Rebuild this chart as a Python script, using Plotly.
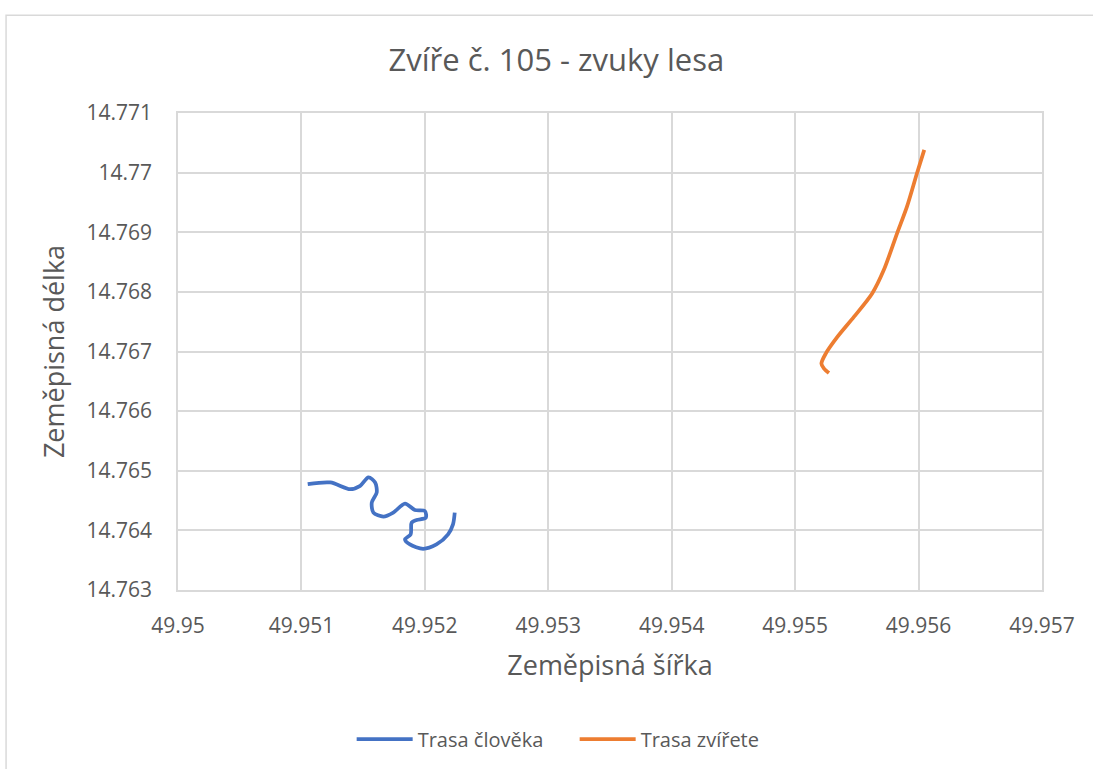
import plotly.graph_objects as go

human_lat = [49.951051, 49.951234, 49.951395, 49.951476, 49.951543, 49.951597, 49.951610,
             49.951570, 49.951583, 49.951664, 49.951744, 49.951839, 49.951919, 49.952000,
             49.952008, 49.951933, 49.951893, 49.951885, 49.951839, 49.951879, 49.951986,
             49.952094, 49.952188, 49.952228, 49.952242]
human_lon = [14.764776, 14.764804, 14.764691, 14.764747, 14.764889, 14.764804, 14.764636,
             14.764467, 14.764298, 14.764231, 14.764298, 14.764450, 14.764342, 14.764325,
             14.764214, 14.764174, 14.764130, 14.763933, 14.763848, 14.763764, 14.763691,
             14.763764, 14.763933, 14.764101, 14.764298]

animal_lat = [49.955274, 49.955234, 49.955213, 49.955248, 49.955342, 49.955476, 49.955624,
              49.955718, 49.955826, 49.955906, 49.955987, 49.956046]
animal_lon = [14.766639, 14.766713, 14.766797, 14.766965, 14.767244, 14.767580, 14.767973,
              14.768365, 14.768982, 14.769429, 14.769990, 14.770382]

x_ticks = [49.950, 49.951, 49.952, 49.953, 49.954, 49.955, 49.956, 49.957]
x_labels = ["49.95", "49.951", "49.952", "49.953", "49.954", "49.955", "49.956", "49.957"]
y_ticks = [14.763, 14.764, 14.765, 14.766, 14.767, 14.768, 14.769, 14.770, 14.771]
y_labels = ["14.763", "14.764", "14.765", "14.766", "14.767", "14.768", "14.769", "14.77", "14.771"]

FONT = "Open Sans, Liberation Sans, sans-serif"
GREY = "#595959"
GRID = "#d9d9d9"

fig = go.Figure()
fig.add_trace(go.Scatter(x=human_lat, y=human_lon, mode="lines", name="Trasa člověka",
                         line=dict(color="#4472c4", width=3.75, shape="spline", smoothing=0.8)))
fig.add_trace(go.Scatter(x=animal_lat, y=animal_lon, mode="lines", name="Trasa zvířete",
                         line=dict(color="#ed7d31", width=3.75, shape="spline", smoothing=0.8)))

fig.update_layout(
    width=1093, height=769,
    margin=dict(l=178, r=51, t=113, b=178),
    paper_bgcolor="white", plot_bgcolor="white",
    font=dict(family=FONT, color=GREY, size=20),
    title=dict(text="Zvíře č. 105 - zvuky lesa", x=0.509, xanchor="center",
               y=0.922, yanchor="middle", font=dict(size=31, color=GREY)),
    showlegend=True,
    legend=dict(orientation="h", x=0.201, xanchor="left", y=-0.31, yanchor="middle",
                font=dict(size=20, color=GREY), itemwidth=56,
                entrywidth=152, entrywidthmode="pixels"),
    shapes=[dict(type="rect", xref="paper", yref="paper", x0=-0.199, x1=1.1, y0=-0.5, y1=1.205,
                 line=dict(color=GRID, width=1.5), layer="below")],
)
fig.update_xaxes(range=[49.950, 49.957], tickvals=x_ticks, ticktext=x_labels,
                 showgrid=True, gridcolor=GRID, gridwidth=1.5,
                 showline=True, linecolor=GRID, linewidth=1.5, mirror=True,
                 zeroline=False, ticks="", ticklabelstandoff=16,
                 tickfont=dict(size=21, color=GREY),
                 title=dict(text="Zeměpisná šířka", font=dict(size=27, color=GREY), standoff=18))
fig.update_yaxes(range=[14.763, 14.771], tickvals=y_ticks, ticktext=y_labels,
                 showgrid=True, gridcolor=GRID, gridwidth=1.5,
                 showline=True, linecolor=GRID, linewidth=1.5, mirror=True,
                 zeroline=False, ticks="", ticklabelstandoff=20,
                 tickfont=dict(size=21, color=GREY),
                 title=dict(text="Zeměpisná délka", font=dict(size=27, color=GREY), standoff=14))

fig.write_html("out.html", config={"displayModeBar": False},
               post_script="document.body.style.margin='0';")
